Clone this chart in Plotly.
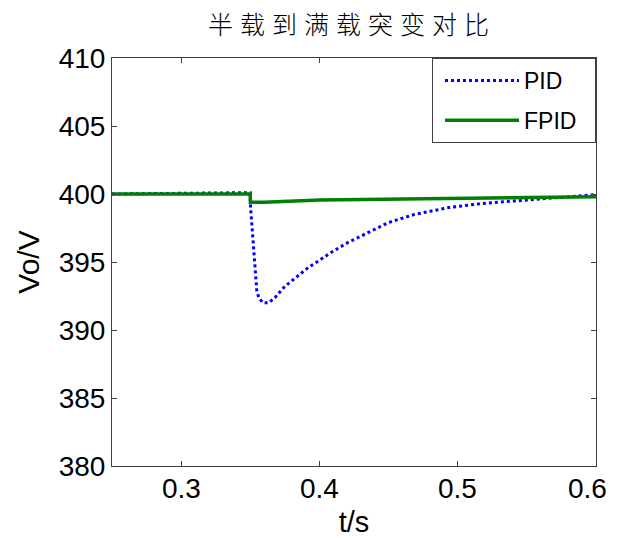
import plotly.graph_objects as go

t_pid = [0.25, 0.30, 0.3499, 0.3502, 0.3510, 0.3517, 0.3525, 0.3532, 0.3539, 0.3547, 0.3561,
         0.3576, 0.3590, 0.3634, 0.3680, 0.3750, 0.3844, 0.3920, 0.3997, 0.4084, 0.4200,
         0.4324, 0.4499, 0.4688, 0.4935, 0.5174, 0.5414, 0.5660, 0.5900, 0.6000]
v_pid = [400.0, 400.05, 400.1, 399.0, 397.9, 396.6, 395.9, 394.6, 393.7, 392.9, 392.4,
         392.2, 392.0, 392.0, 392.4, 393.2, 394.0, 394.6, 395.1, 395.7, 396.4,
         397.0, 397.9, 398.5, 399.0, 399.3, 399.5, 399.7, 399.9, 399.95]

t_fpid = [0.25, 0.3499, 0.3501, 0.36, 0.40, 0.45, 0.50, 0.55, 0.60]
v_fpid = [400.0, 400.0, 399.4, 399.4, 399.55, 399.6, 399.7, 399.75, 399.8]

x_ticks = [0.3, 0.4, 0.5, 0.6]
y_ticks = [380, 385, 390, 395, 400, 405, 410]

FONT = "Liberation Sans, Arial"

fig = go.Figure()
fig.add_trace(go.Scatter(x=t_pid, y=v_pid, mode="lines", name="PID", legendgroup="a",
                         line=dict(color="#0000ff", width=3, dash="dot")))
fig.add_trace(go.Scatter(x=t_fpid, y=v_fpid, mode="lines", name="FPID\u00a0\u00a0", legendgroup="b",
                         line=dict(color="#008000", width=3.5)))

axis_common = dict(showline=True, linecolor="#404040", linewidth=1, mirror="ticks",
                   ticks="inside", ticklen=5, tickcolor="#404040", showgrid=False,
                   zeroline=False, automargin=False,
                   tickfont=dict(family=FONT, size=28, color="#000"))

fig.update_xaxes(range=[0.25, 0.6], tickvals=x_ticks, showticklabels=False,
                 title=dict(text="t/s", font=dict(family=FONT, size=29, color="#000"),
                            standoff=46),
                 **axis_common)
fig.update_yaxes(range=[380, 410], tickvals=y_ticks, ticktext=[str(v) for v in y_ticks],
                 title=dict(text="Vo/V", font=dict(family=FONT, size=30, color="#000"),
                            standoff=10),
                 **axis_common)

# x tick labels as annotations (last label nudged inward as in the reference)
for v in x_ticks:
    fig.add_annotation(x=v, y=0, xref="x", yref="paper", yanchor="top", showarrow=False,
                       text=str(v), yshift=-5, xshift=(-9 if v == x_ticks[-1] else 0),
                       font=dict(family=FONT, size=28, color="#000"))

fig.update_layout(
    width=612, height=530,
    margin=dict(l=104, r=24, t=50, b=72),
    paper_bgcolor="white", plot_bgcolor="white",
    title=dict(text='<span style="letter-spacing:7px">半载到满载突变对比</span>',
               x=0.562, xanchor="center", y=0.968, yanchor="middle",
               font=dict(family="Noto Sans CJK SC", size=25, color="#000", weight=300)),
    legend=dict(x=1, xanchor="right", y=1, yanchor="top", bgcolor="white",
                bordercolor="#404040", borderwidth=1, itemwidth=74, indentation=7,
                font=dict(family=FONT, size=23, color="#000"),
                tracegroupgap=7),
    showlegend=True,
)

fig.write_html("out.html")
